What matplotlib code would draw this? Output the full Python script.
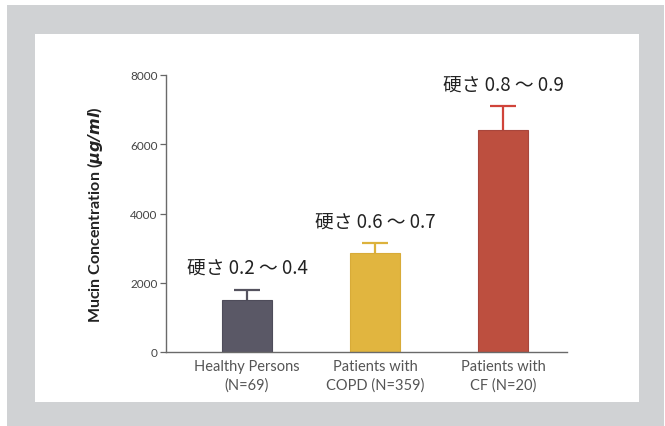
import matplotlib
matplotlib.use("Agg")
import matplotlib.pyplot as plt
from matplotlib.patches import Rectangle

# Data
categories = ["Healthy Persons\n(N=69)", "Patients with\nCOPD (N=359)", "Patients with\nCF (N=20)"]
mucin_mean = [1510, 2860, 6420]
mucin_err = [290, 290, 680]
hardness = ["硬さ 0.2 ～ 0.4", "硬さ 0.6 ～ 0.7", "硬さ 0.8 ～ 0.9"]
y_ticks = [0, 2000, 4000, 6000, 8000]

bar_colors = ["#5a5866", "#e1b53f", "#bd4f3f"]
edge_colors = ["#4e4c5a", "#d8ab38", "#a8463c"]
err_colors = ["#55535f", "#dcb23c", "#d0443a"]

W, H = 665, 427
fig = plt.figure(figsize=(W / 100, H / 100), dpi=100)
fig.patch.set_facecolor("white")

# grey frame and white panel
fig.add_artist(Rectangle((7 / W, 0), (664 - 7) / W, (H - 6) / H,
                         transform=fig.transFigure, facecolor="#d0d2d4",
                         edgecolor="none", zorder=-10))
fig.add_artist(Rectangle((35 / W, (H - 403) / H), (639 - 35) / W, (403 - 35) / H,
                         transform=fig.transFigure, facecolor="white",
                         edgecolor="none", zorder=-9))

ax = fig.add_axes([166 / W, (H - 353) / H, (567 - 166) / W, (353 - 76) / H])
ax.set_facecolor("none")

x = list(range(len(categories)))
cap_half = 0.1
for i in x:
    top = mucin_mean[i] + mucin_err[i]
    ax.bar(i, mucin_mean[i], width=0.39, color=bar_colors[i],
           edgecolor=edge_colors[i], linewidth=0.8, zorder=2)
    # upper error whisker only
    ax.vlines(i, mucin_mean[i], top, colors=err_colors[i], linewidth=1.6, zorder=1)
    ax.hlines(top, i - cap_half, i + cap_half, colors=err_colors[i], linewidth=1.6, zorder=1)
    ax.annotate(hardness[i], xy=(i, top),
                xytext=(0, 16), textcoords="offset points",
                ha="center", va="center", fontsize=13.5, color="#222222",
                family=["Noto Sans CJK JP", "DejaVu Sans"])

ax.set_xlim(-0.633, 2.5)
ax.set_ylim(0, 8000)
ax.set_yticks(y_ticks)
ax.set_yticklabels([str(v) for v in y_ticks], family="Lato", fontsize=8.5, color="#444444")
ax.set_xticks(x)
ax.set_xticklabels(categories, family="Lato", fontsize=10.5, color="#555555", linespacing=1.35)
ax.tick_params(axis="x", length=0, pad=5)
ax.tick_params(axis="y", length=4, width=0.9, color="#666666", pad=2)

for s in ["top", "right"]:
    ax.spines[s].set_visible(False)
for s in ["left", "bottom"]:
    ax.spines[s].set_color("#6a6a6a")
    ax.spines[s].set_linewidth(1.0)

ax.set_ylabel(r"Mucin Concentration ($\mathbfit{\mu g/ml}$)", family="Lato",
              fontsize=11.5, fontweight="bold", color="#222222", labelpad=18)

fig.savefig("out.png", dpi=100, facecolor=fig.get_facecolor())
